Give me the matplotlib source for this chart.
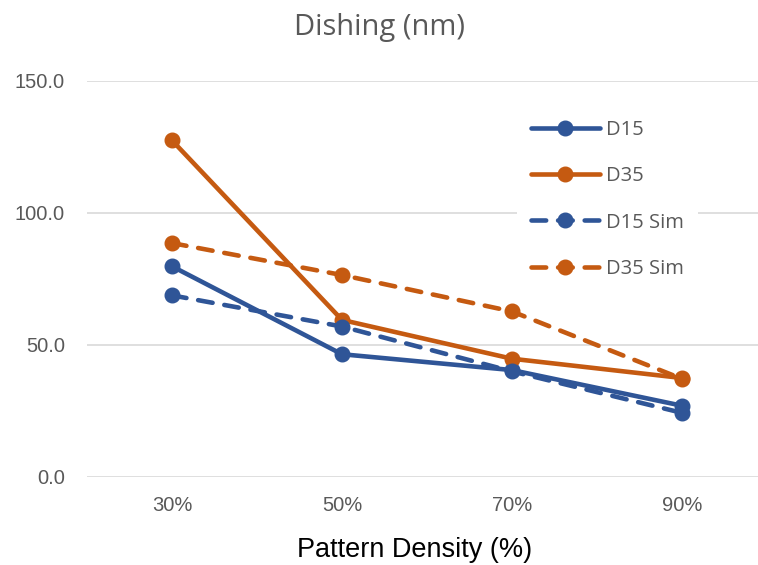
import matplotlib
matplotlib.use("Agg")
import matplotlib.pyplot as plt

"""data read off the chart"""
densities = ['30%', '50%', '70%', '90%']
d15 = [79.8, 46.5, 40.5, 27.0]
d35 = [127.5, 59.5, 44.8, 37.5]
d15_sim = [68.8, 57.0, 40.0, 24.3]
d35_sim = [88.6, 76.5, 62.7, 37.2]
y_ticks = [0, 50, 100, 150]

blue = '#2F5597'
orange = '#C55A11'
grey_text = '#595959'

fig = plt.figure(figsize=(7.58, 5.65), dpi=100)
ax = fig.add_axes([87 / 758, 88 / 565, 680 / 758, 396 / 565])

x = list(range(len(densities)))
lw = 3.3
ms = 10.5
ax.plot(x, d15, color=blue, lw=lw, marker='o', ms=ms, label='D15',
        solid_capstyle='round')
ax.plot(x, d35, color=orange, lw=lw, marker='o', ms=ms, label='D35',
        solid_capstyle='round')
ax.plot(x, d15_sim, color=blue, lw=lw, marker='o', ms=ms, label='D15 Sim',
        dashes=(3.2, 2.6), dash_capstyle='round')
ax.plot(x, d35_sim, color=orange, lw=lw, marker='o', ms=ms, label='D35 Sim',
        dashes=(3.2, 2.6), dash_capstyle='round')

ax.set_xlim(-0.5, 3.5)
ax.set_ylim(0, 150)
ax.set_xticks(x)
ax.set_xticklabels(densities)
ax.set_yticks(y_ticks)
ax.set_yticklabels([f'{v:.1f}' for v in y_ticks])
ax.tick_params(length=0, labelsize=14.5, labelcolor=grey_text)
for lab in ax.get_xticklabels() + ax.get_yticklabels():
    lab.set_fontfamily('Liberation Sans')
ax.tick_params(axis='y', pad=16)
ax.tick_params(axis='x', pad=14)

ax.grid(axis='y', color='#D9D9D9', lw=1.2)
ax.set_axisbelow(True)
for s in ax.spines.values():
    s.set_visible(False)

fig.text(0.5, 1 - 27 / 565, 'Dishing (nm)', ha='center', va='center',
         fontsize=21, color=grey_text, family='Open Sans')
fig.text(415 / 758, 1 - 550 / 565, 'Pattern Density (%)', ha='center',
         va='center', fontsize=19.5, color='black', family='Liberation Sans')

leg = ax.legend(loc='upper left', bbox_to_anchor=(507 / 758, 1 - 96 / 565),
                bbox_transform=fig.transFigure, frameon=True, fancybox=False,
                handlelength=3.4, handletextpad=0.3, labelspacing=1.3,
                prop={'family': 'Open Sans', 'size': 14.5}, borderpad=0.7)
leg.get_frame().set_facecolor('white')
leg.get_frame().set_edgecolor('none')
leg.get_frame().set_alpha(1)
for t in leg.get_texts():
    t.set_color(grey_text)

fig.savefig('out.png', dpi=100)
